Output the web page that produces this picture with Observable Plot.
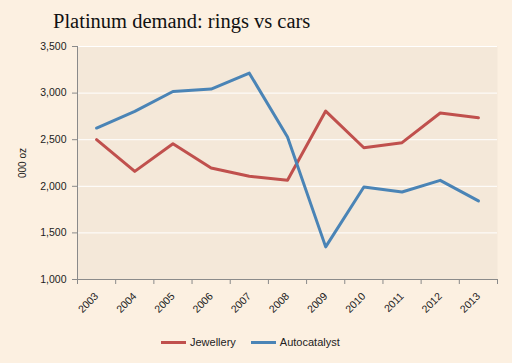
<!DOCTYPE html>
<html>
<head>
<meta charset="utf-8">
<script src="https://cdn.jsdelivr.net/npm/d3@7"></script>
<script src="https://cdn.jsdelivr.net/npm/@observablehq/plot@0.6"></script>
<style>
  html, body { margin: 0; padding: 0; background: #FCF0E1; }
  #wrap { position: relative; width: 512px; height: 363px; overflow: hidden; background: #FCF0E1; }
  #title { position: absolute; left: 53px; top: 11px; font-family: "Liberation Serif", "DejaVu Serif", serif; font-size: 20.5px; line-height: 1; color: #111; white-space: nowrap; }
  #ylab { position: absolute; left: 22px; top: 163px; transform: translate(-50%, -50%) rotate(-90deg); font-family: "Liberation Sans", Arial, sans-serif; font-size: 10px; color: #222; white-space: nowrap; }
  #legend { position: absolute; left: 161px; top: 336px; display: flex; align-items: center; font-family: "Liberation Sans", Arial, sans-serif; font-size: 11px; color: #222; }
  .item { display: flex; align-items: center; margin-right: 15px; }
  .sw { width: 25px; height: 3px; margin-right: 4px; }
  #chart { position: absolute; left: 0; top: 0; }
</style>
</head>
<body>
<div id="wrap">
  <div id="chart"></div>
  <div id="title">Platinum demand: rings vs cars</div>
  <div id="ylab">000 oz</div>
  <div id="legend"></div>
</div>
<script>
const years = [2003, 2004, 2005, 2006, 2007, 2008, 2009, 2010, 2011, 2012, 2013];
const jewellery = [2500, 2160, 2457, 2196, 2107, 2064, 2807, 2414, 2468, 2786, 2736];
const autocatalyst = [2625, 2804, 3017, 3043, 3214, 2528, 1350, 1993, 1939, 2064, 1843];
const seriesNames = ["Jewellery", "Autocatalyst"];
const seriesColors = ["#C0504D", "#4A84B6"];
const yTicks = [1000, 1500, 2000, 2500, 3000, 3500];

const data = [];
years.forEach((yr, i) => data.push({year: yr, value: jewellery[i], series: seriesNames[0]}));
years.forEach((yr, i) => data.push({year: yr, value: autocatalyst[i], series: seriesNames[1]}));

const xMin = years[0] - 0.5;
const xMax = years[years.length - 1] + 0.5;
const bounds = years.map(y => y - 0.5).concat([xMax]);

const axisGray = "#8A8A8A";
const fmt = d3.format(",");

const chart = Plot.plot({
  width: 512,
  height: 363,
  marginTop: 46,
  marginBottom: 84,
  marginLeft: 77,
  marginRight: 15,
  style: {background: "transparent", fontFamily: "'Liberation Sans', Arial, sans-serif", fontSize: "10.5px", color: "#222"},
  x: {type: "linear", domain: [xMin, xMax]},
  y: {domain: [yTicks[0], yTicks[yTicks.length - 1]]},
  color: {domain: seriesNames, range: seriesColors},
  marks: [
    Plot.frame({fill: "#F4E8D9", stroke: null}),
    Plot.gridY(yTicks.slice(1), {stroke: "#FFFFFF", strokeOpacity: 1, strokeWidth: 1}),
    Plot.axisY(yTicks, {tickFormat: fmt, tickSize: 5, tickPadding: 6, stroke: axisGray, fill: "#222", label: null}),
    Plot.axisX(bounds, {tickSize: 5, tickFormat: () => "", stroke: axisGray, label: null}),
    Plot.axisX(years, {tickSize: 0, tickPadding: 15, tickRotate: -45, tickFormat: d => String(d), fill: "#222", label: null}),
    Plot.ruleX([xMin], {stroke: axisGray, strokeWidth: 1}),
    Plot.ruleY([yTicks[0]], {stroke: axisGray, strokeWidth: 1}),
    Plot.line(data, {x: "year", y: "value", z: "series", stroke: "series", strokeWidth: 3, strokeLinejoin: "round", strokeLinecap: "round"})
  ]
});
document.getElementById("chart").appendChild(chart);

const legend = document.getElementById("legend");
seriesNames.forEach((name, i) => {
  const item = document.createElement("div");
  item.className = "item";
  const sw = document.createElement("div");
  sw.className = "sw";
  sw.style.background = seriesColors[i];
  const label = document.createElement("span");
  label.textContent = name;
  item.appendChild(sw);
  item.appendChild(label);
  legend.appendChild(item);
});
</script>
</body>
</html>
